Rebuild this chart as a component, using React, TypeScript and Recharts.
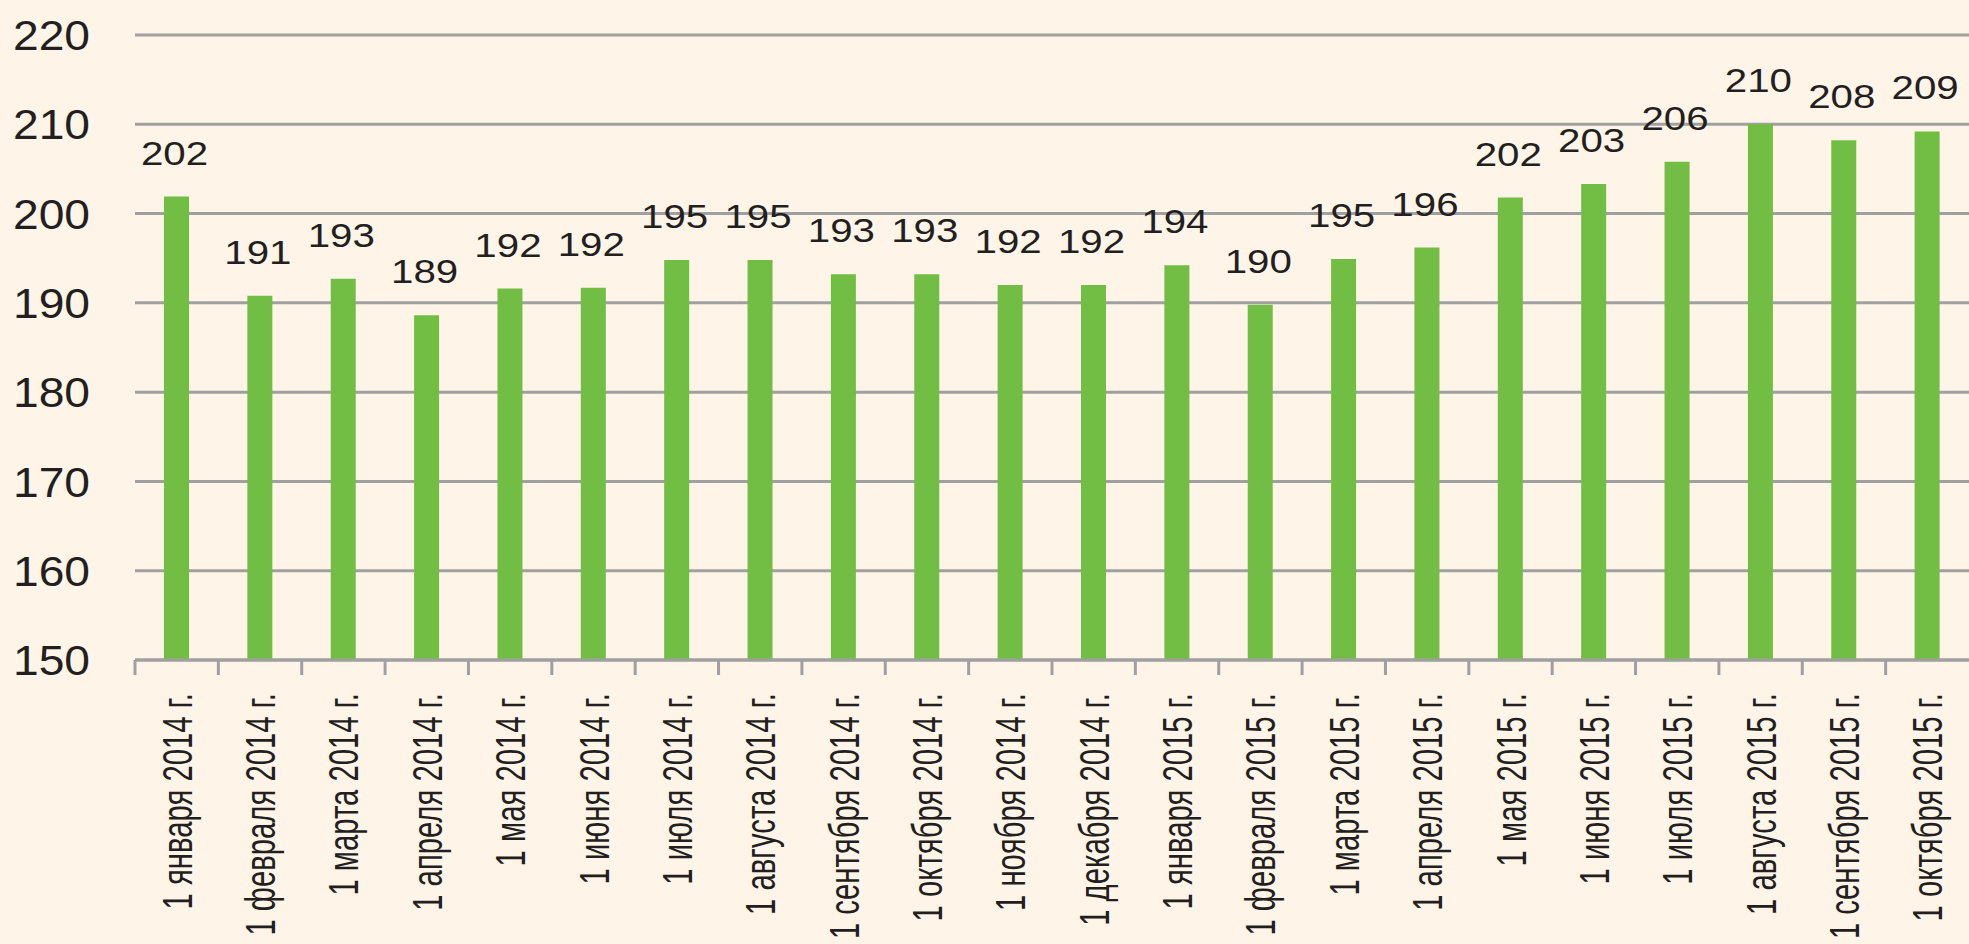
import React from "react";
import { BarChart, Bar, XAxis, YAxis, CartesianGrid, LabelList } from "recharts";

const months = [
  "1 января 2014 г.",
  "1 февраля 2014 г.",
  "1 марта 2014 г.",
  "1 апреля 2014 г.",
  "1 мая 2014 г.",
  "1 июня 2014 г.",
  "1 июля 2014 г.",
  "1 августа 2014 г.",
  "1 сентября 2014 г.",
  "1 октября 2014 г.",
  "1 ноября 2014 г.",
  "1 декабря 2014 г.",
  "1 января 2015 г.",
  "1 февраля 2015 г.",
  "1 марта 2015 г.",
  "1 апреля 2015 г.",
  "1 мая 2015 г.",
  "1 июня 2015 г.",
  "1 июля 2015 г.",
  "1 августа 2015 г.",
  "1 сентября 2015 г.",
  "1 октября 2015 г.",
];

const values = [
  201.9, 190.8, 192.7, 188.6, 191.6, 191.7, 194.8, 194.8, 193.2, 193.2, 192.0,
  192.0, 194.2, 189.8, 194.9, 196.2, 201.8, 203.3, 205.8, 210.0, 208.2, 209.2,
];

const yTicks = [150, 160, 170, 180, 190, 200, 210, 220];

const W = 1969;
const H = 944;
const LEFT = 135;
const BAND = (W - LEFT) / months.length;
const FONT = '"Liberation Sans", Arial, sans-serif';
const INK = "#231f20";
const GRID = "#a0a0a0";

const data = months.map((m, i) => ({ month: m, value: values[i] }));

// excel-style ticks sit between categories, labels are narrow & rotated
const XTick = ({ x, y, payload }: any) => (
  <g>
    <line x1={x - BAND / 2} x2={x - BAND / 2} y1={y} y2={y + 15} stroke={GRID} strokeWidth={3} />
    <g transform={`translate(${x + 15},${y + 33}) rotate(-90) scale(0.837,1.22)`}>
      <text textAnchor="end" fontSize={35} fontFamily={FONT} fill={INK}>
        {payload.value}
      </text>
    </g>
  </g>
);

const YTick = ({ x, y, payload }: any) => (
  <g transform={`translate(${x},${y}) scale(1.1,1)`}>
    <text textAnchor="end" dy="0.36em" fontSize={42} fontFamily={FONT} fill={INK}>
      {payload.value}
    </text>
  </g>
);

const ValueLabel = (p: any) => (
  <g transform={`translate(${p.x + p.width / 2 - 2},${p.y - 32}) scale(1.22,1)`}>
    <text textAnchor="middle" fontSize={33} fontFamily={FONT} fill={INK}>
      {Math.round(p.value)}
    </text>
  </g>
);

export default function App() {
  return (
    <div
      style={{
        position: "absolute",
        left: 0,
        top: 0,
        width: W,
        height: H,
        overflow: "hidden",
        background: "#fef4e8",
      }}
    >
      <BarChart
        width={W}
        height={H}
        data={data}
        margin={{ top: 35, right: 0, left: 0, bottom: 0 }}
      >
        <CartesianGrid vertical={false} stroke={GRID} strokeWidth={3} />
        <XAxis
          dataKey="month"
          interval={0}
          height={H - 660}
          tickSize={0}
          tickMargin={0}
          tickLine={false}
          axisLine={{ stroke: GRID, strokeWidth: 3 }}
          tick={<XTick />}
        />
        <YAxis
          type="number"
          domain={[150, 220]}
          ticks={yTicks}
          width={LEFT}
          tickSize={0}
          tickMargin={45}
          axisLine={false}
          tickLine={false}
          tick={<YTick />}
        />
        <Bar dataKey="value" fill="#72be44" barSize={25} isAnimationActive={false}>
          <LabelList dataKey="value" content={<ValueLabel />} />
        </Bar>
      </BarChart>
    </div>
  );
}
